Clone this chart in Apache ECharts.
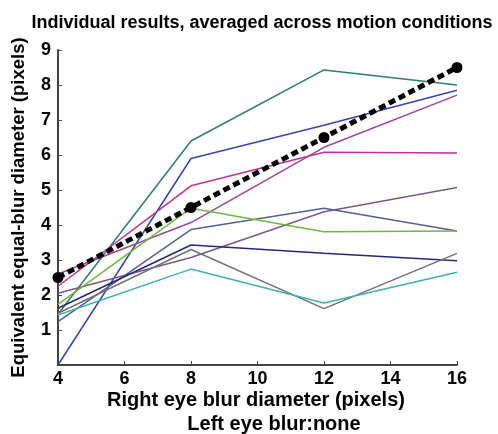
<!DOCTYPE html>
<html>
<head>
<meta charset="utf-8">
<script src="https://cdn.jsdelivr.net/npm/echarts@6/dist/echarts.min.js"></script>
<style>
  html, body { margin: 0; padding: 0; background: #fff; }
  #chart { width: 498px; height: 434px; }
</style>
</head>
<body>
<div id="chart"></div>
<script>
    // right eye blur diameter (pixels)
    var blurSizes = [4, 8, 12, 16];

    // one line per observer
    var obsTeal    = [1.45, 6.4, 8.43, 8.0];
    var obsBlue    = [0.0, 5.9, 6.85, 7.85];
    var obsMagenta = [2.25, 5.12, 6.08, 6.06];
    var obsPurple  = [2.6, 4.07, 6.22, 7.71];
    var obsMauve   = [2.05, 3.07, 4.38, 5.07];
    var obsSlate   = [1.24, 3.87, 4.48, 3.83];
    var obsGreen   = [1.73, 4.48, 3.81, 3.83];
    var obsNavy    = [1.62, 3.43, 3.19, 2.98];
    var obsGrey    = [1.48, 3.3, 1.61, 3.19];
    var obsCyan    = [1.43, 2.74, 1.77, 2.65];

    // average across observers
    var meanVals = [2.5, 4.5, 6.5, 8.5];

    var observers = [
        {data: obsTeal, color: '#2f7d6e'},
        {data: obsBlue, color: '#3844b0'},
        {data: obsMagenta, color: '#c1309a'},
        {data: obsPurple, color: '#99489a'},
        {data: obsMauve, color: '#7a5a82'},
        {data: obsSlate, color: '#565f90'},
        {data: obsGreen, color: '#6eb842'},
        {data: obsNavy, color: '#27277a'},
        {data: obsGrey, color: '#727272'},
        {data: obsCyan, color: '#3fb0b0'}
    ];

    function pairs(vals){
        var out = [];
        for (var i = 0; i < blurSizes.length; i++) {
            out.push([blurSizes[i], vals[i]]);
        }
        return out;
    }

    var series = [];
    observers.forEach(function (o) {
        series.push({
            type: 'line',
            data: pairs(o.data),
            symbol: 'none',
            silent: true,
            lineStyle: {color: o.color, width: 1.5}
        });
    });
    series.push({
        type: 'line',
        data: pairs(meanVals),
        symbol: 'circle',
        symbolSize: 11,
        itemStyle: {color: '#000'},
        lineStyle: {color: '#000', width: 5, type: [7, 4]},
        z: 5
    });

    var boldFont = 'Liberation Sans, Arial, Helvetica, sans-serif';

    var myChart = echarts.init(document.getElementById('chart'));
    var option = {
        animation: false,
        title: [
            {
                text: 'Individual results, averaged across motion conditions',
                left: 257, top: 9, textAlign: 'center',
                textStyle: {fontSize: 18, fontWeight: 'bold', color: '#000', fontFamily: boldFont}
            },
            {
                text: 'Right eye blur diameter (pixels)',
                left: 256, top: 390, padding: 0, textAlign: 'center',
                textStyle: {fontSize: 20, fontWeight: 'bold', color: '#000', fontFamily: boldFont}
            },
            {
                text: 'Left eye blur:none',
                left: 274, top: 414, padding: 0, textAlign: 'center',
                textStyle: {fontSize: 20, fontWeight: 'bold', color: '#000', fontFamily: boldFont}
            }
        ],
        grid: {left: 58, right: 41, top: 50, bottom: 69},
        xAxis: {
            type: 'value',
            min: 4, max: 16, interval: 2,
            axisLine: {lineStyle: {color: '#444', width: 2}},
            axisTick: {inside: true, length: 4, lineStyle: {color: '#444'}},
            splitLine: {show: false},
            axisLabel: {fontSize: 18, fontWeight: 'bold', color: '#000', margin: 5, fontFamily: boldFont}
        },
        yAxis: {
            type: 'value',
            min: 0, max: 9, interval: 1,
            name: 'Equivalent equal-blur diameter (pixels)',
            nameLocation: 'middle',
            nameGap: 30,
            nameTextStyle: {fontSize: 18.5, fontWeight: 'bold', color: '#000', fontFamily: boldFont},
            axisLine: {show: true, lineStyle: {color: '#444', width: 2}},
            axisTick: {show: true, inside: true, length: 4, lineStyle: {color: '#444'}},
            splitLine: {show: false},
            axisLabel: {
                fontSize: 18, fontWeight: 'bold', color: '#000', margin: 7, fontFamily: boldFont,
                formatter: function (v) { return v === 0 ? '' : v; }
            }
        },
        series: series
    };
    myChart.setOption(option);
</script>
</body>
</html>
